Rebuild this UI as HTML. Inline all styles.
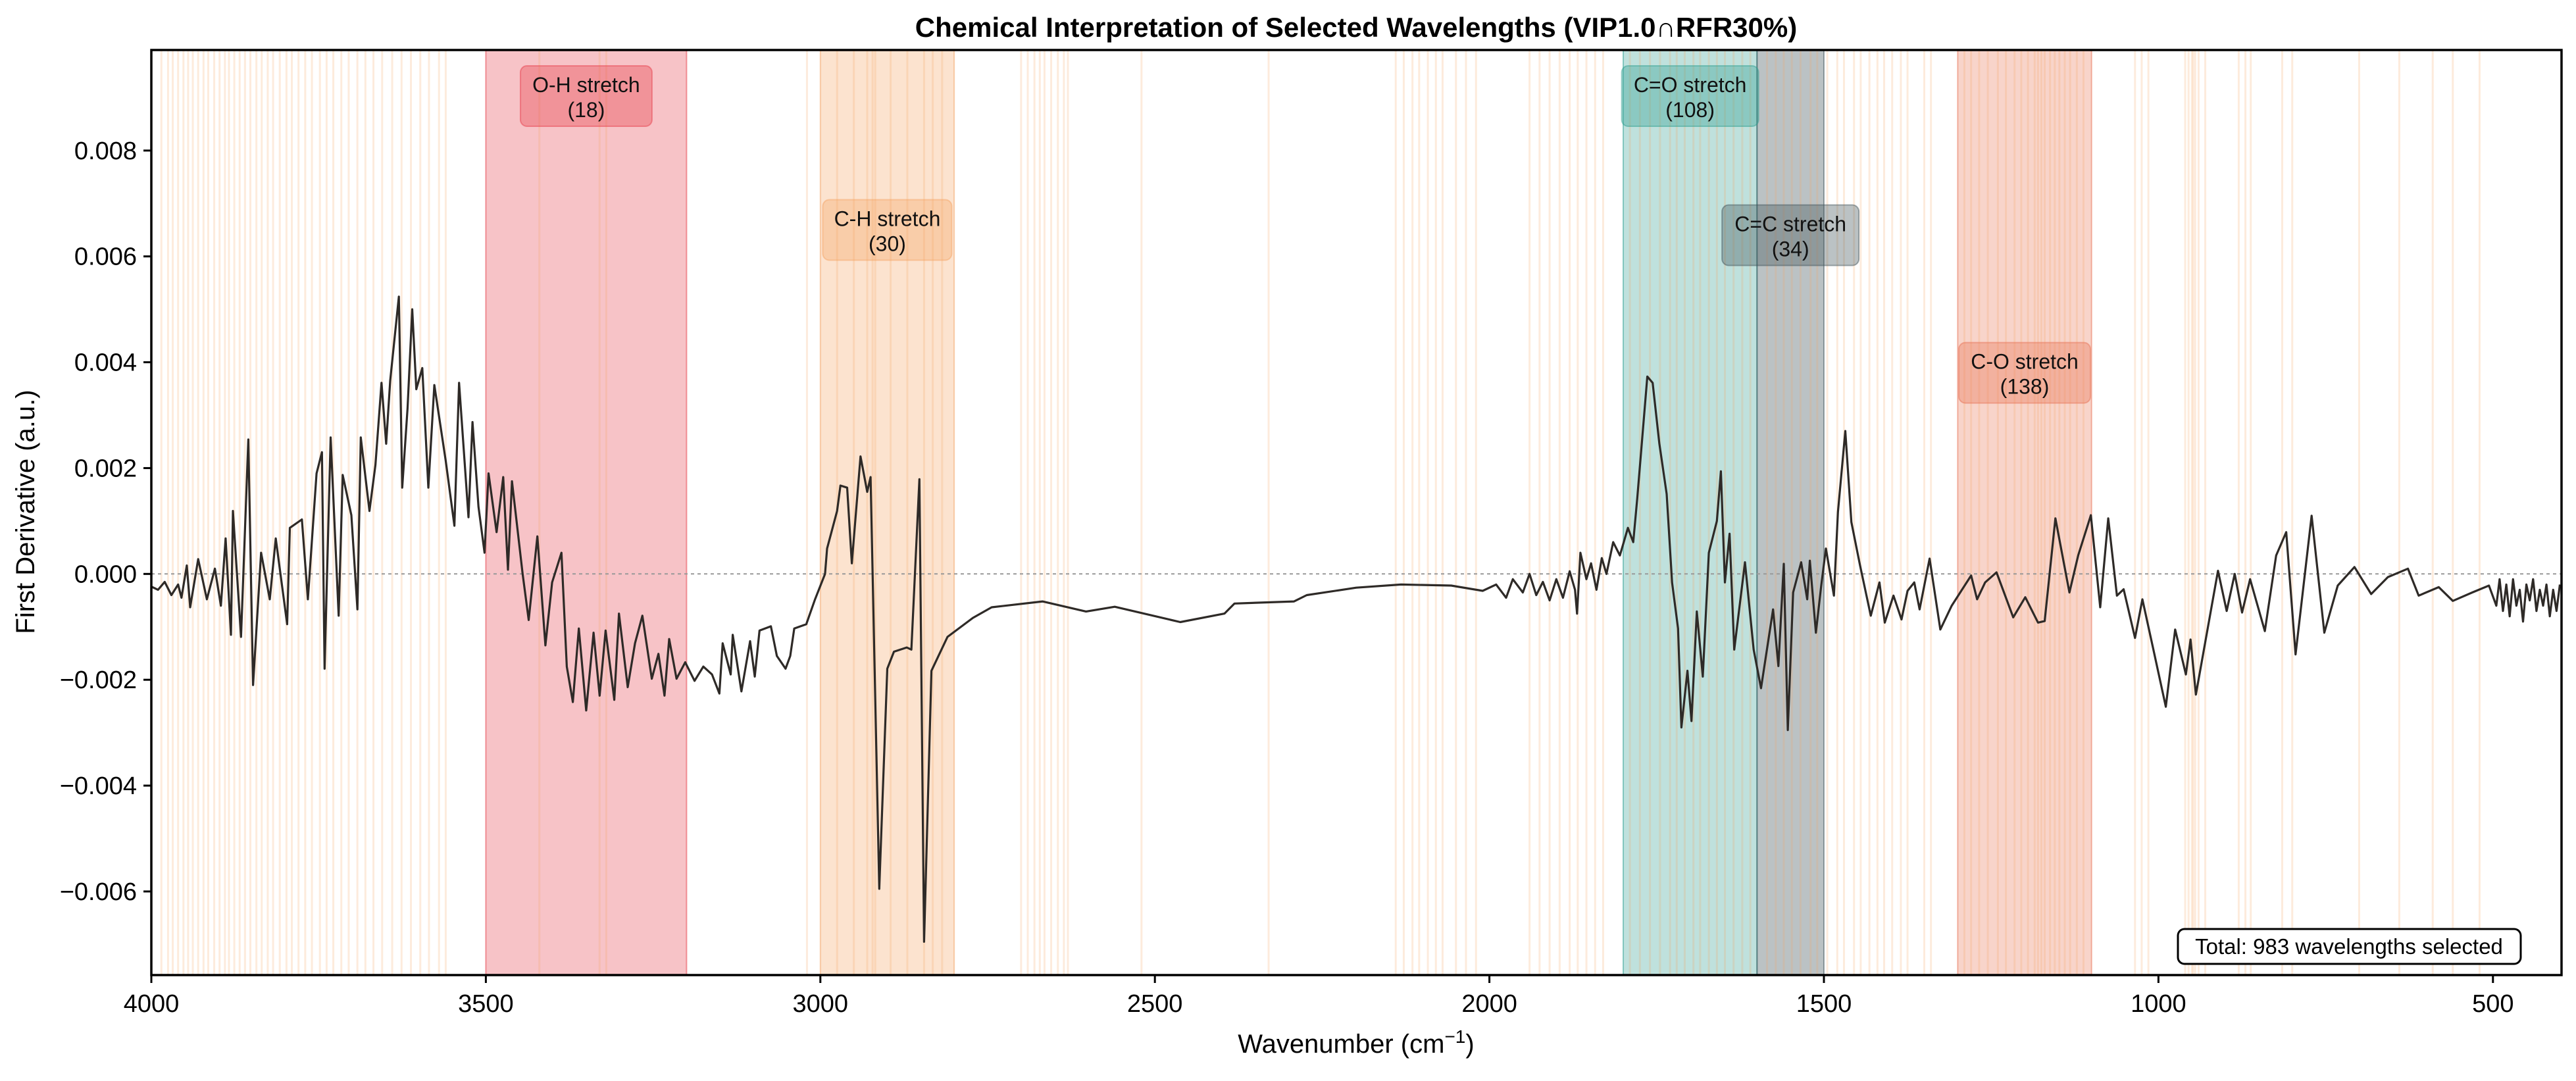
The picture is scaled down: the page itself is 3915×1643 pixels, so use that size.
<!DOCTYPE html>
<html><head><meta charset="utf-8"><style>
html,body{margin:0;padding:0;background:#fff;}
svg{display:block;font-family:"Liberation Sans",Arial,sans-serif;}
</style></head><body>
<svg id="chart" width="3915" height="1643" viewBox="0 0 3915 1643" xmlns="http://www.w3.org/2000/svg">
<text x="2061" y="56" text-anchor="middle" font-size="42" font-weight="bold" fill="#000">Chemical Interpretation of Selected Wavelengths (VIP1.0∩RFR30%)</text>
<g id="plot"></g>
<text transform="translate(52,778) rotate(-90)" text-anchor="middle" font-size="40" fill="#000">First Derivative (a.u.)</text>
<text x="2061" y="1600" text-anchor="middle" font-size="40" fill="#000">Wavenumber (cm<tspan baseline-shift="super" font-size="28">−1</tspan>)</text>
</svg>
<script>
// ---- data ----
const selectedWavenumbers=[3985,3975,3968,3960,3952,3945,3938,3930,3922,3915,3906,3898,3890,3884,3876,3868,3860,3852,3843,3835,3826,3818,3808,3798,3790,3780,3770,3760,3748,3738,3728,3716,3705,3692,3680,3668,3655,3640,3626,3612,3598,3585,3570,3560,3420,3330,3320,3020,2975,2950,2930,2922,2918,2895,2870,2845,2832,2818,2700,2690,2680,2672,2665,2655,2645,2636,2630,2520,2330,2140,2128,2115,2105,2092,2080,2070,2050,2035,2020,1940,1925,1910,1895,1880,1868,1855,1842,1830,1790,1775,1760,1745,1730,1720,1708,1695,1685,1672,1660,1648,1635,1622,1610,1585,1572,1560,1548,1535,1520,1510,1495,1480,1470,1455,1445,1432,1420,1410,1398,1385,1375,1350,1340,1290,1280,1268,1255,1240,1228,1215,1205,1195,1185,1180,1175,1170,1162,1155,1148,1140,1132,1122,1112,1035,1025,1015,960,955,950,948,945,940,930,880,870,862,815,800,700,640,590,560,520];
const bandNames=["O-H stretch","C-H stretch","C=O stretch","C=C stretch","C-O stretch"];
const bandCounts=[18,30,108,34,138];
const bandStart=[3500,3000,1800,1600,1300];
const bandEnd=[3200,2800,1600,1500,1100];
const bandLabelY=[0.00903,0.0065,0.00903,0.0064,0.0038];
const bandColors=["#e63946","#f4a261","#2a9d8f","#3d4f57","#e76f51"];
const wavenumbers=[4000,3990,3980,3970,3960,3955,3947,3942,3930,3917,3905,3896,3889,3881,3878,3866,3855,3848,3836,3823,3814,3797,3793,3775,3766,3753,3745,3741,3732,3720,3714,3701,3692,3687,3674,3665,3656,3649,3643,3630,3625,3617,3610,3604,3595,3586,3577,3560,3547,3540,3526,3520,3511,3502,3496,3484,3474,3467,3461,3445,3436,3423,3411,3401,3387,3379,3370,3361,3350,3339,3330,3321,3308,3301,3288,3277,3266,3252,3242,3233,3226,3215,3202,3188,3175,3162,3151,3146,3134,3131,3118,3105,3098,3091,3074,3065,3052,3045,3039,3021,3008,2993,2990,2975,2970,2960,2953,2940,2930,2925,2912,2900,2890,2871,2864,2852,2845,2834,2810,2772,2744,2668,2603,2560,2462,2396,2381,2292,2273,2199,2132,2057,2010,1990,1975,1965,1950,1940,1930,1920,1910,1900,1890,1880,1872,1869,1864,1855,1848,1840,1832,1825,1815,1805,1793,1785,1779,1764,1756,1746,1735,1727,1718,1713,1704,1698,1690,1681,1672,1660,1654,1648,1641,1634,1618,1605,1594,1576,1568,1560,1554,1546,1534,1525,1521,1512,1504,1497,1485,1479,1468,1459,1446,1430,1417,1409,1396,1384,1375,1365,1357,1342,1326,1309,1280,1271,1259,1242,1217,1199,1180,1170,1154,1133,1120,1101,1087,1075,1062,1052,1035,1024,1008,989,975,959,952,944,911,898,886,875,863,841,824,809,795,771,752,732,707,682,657,627,611,581,560,531,506,495,490,485,480,475,470,465,460,455,450,445,440,435,430,425,420,415,410,405,400];
const derivMilli=[-0.24,-0.3,-0.15,-0.4,-0.2,-0.45,0.16,-0.63,0.28,-0.48,0.1,-0.6,0.67,-1.15,1.19,-1.19,2.54,-2.10,0.40,-0.48,0.67,-0.95,0.87,1.03,-0.48,1.90,2.30,-1.79,2.58,-0.79,1.87,1.11,-0.67,2.58,1.19,2.06,3.61,2.46,3.65,5.24,1.63,3.13,5.0,3.49,3.89,1.63,3.57,2.14,0.91,3.61,1.07,2.87,1.27,0.40,1.90,0.79,1.83,0.08,1.75,0,-0.87,0.71,-1.35,-0.16,0.40,-1.75,-2.42,-1.03,-2.58,-1.11,-2.30,-1.07,-2.38,-0.75,-2.14,-1.31,-0.79,-1.98,-1.51,-2.30,-1.23,-1.98,-1.67,-2.02,-1.75,-1.90,-2.26,-1.31,-1.90,-1.15,-2.22,-1.27,-1.94,-1.07,-0.99,-1.55,-1.79,-1.55,-1.03,-0.95,-0.48,0,0.48,1.19,1.67,1.63,0.2,2.22,1.55,1.83,-5.95,-1.79,-1.47,-1.39,-1.43,1.79,-6.95,-1.83,-1.19,-0.83,-0.63,-0.52,-0.71,-0.62,-0.91,-0.75,-0.56,-0.52,-0.4,-0.26,-0.2,-0.22,-0.32,-0.2,-0.45,-0.1,-0.35,0.0,-0.4,-0.15,-0.5,-0.1,-0.45,0.05,-0.3,-0.75,0.4,-0.1,0.2,-0.3,0.3,0.0,0.6,0.35,0.87,0.6,1.43,3.73,3.61,2.46,1.51,-0.16,-1.03,-2.9,-1.83,-2.78,-0.71,-1.94,0.4,1.0,1.94,-0.16,0.76,-1.43,0.22,-1.43,-2.16,-0.67,-1.74,0.19,-2.95,-0.35,0.22,-0.48,0.25,-1.11,-0.22,0.48,-0.41,1.17,2.70,0.98,0.16,-0.79,-0.16,-0.92,-0.41,-0.86,-0.32,-0.16,-0.67,0.29,-1.05,-0.6,-0.03,-0.48,-0.16,0.03,-0.82,-0.44,-0.92,-0.89,1.05,-0.35,0.35,1.11,-0.63,1.05,-0.41,-0.29,-1.21,-0.48,-1.40,-2.51,-1.05,-1.90,-1.24,-2.28,0.06,-0.70,0,-0.73,-0.10,-1.08,0.35,0.79,-1.52,1.10,-1.11,-0.22,0.13,-0.38,-0.06,0.10,-0.41,-0.25,-0.51,-0.35,-0.22,-0.6,-0.1,-0.7,-0.2,-0.8,-0.1,-0.6,-0.3,-0.9,-0.2,-0.5,-0.1,-0.7,-0.3,-0.6,-0.2,-0.8,-0.3,-0.7,-0.2];
const yTicks=[0.008,0.006,0.004,0.002,0,-0.002,-0.004,-0.006];
const xTicks=[4000,3500,3000,2500,2000,1500,1000,500];
const totalText="Total: 983 wavelengths selected";

// ---- layout ----
const L=230,R=3893,T=76,B=1482;
const X0=4000,X1=397.5,Y0=0.0099,Y1=-0.00758;
function xs(w){return L+(X0-w)/(X0-X1)*(R-L);}
function ys(v){return T+(Y0-v)/(Y0-Y1)*(B-T);}
const NS="http://www.w3.org/2000/svg";
const plot=document.getElementById('plot');
function mk(tag,attrs,parent){const e=document.createElementNS(NS,tag);for(const k in attrs)e.setAttribute(k,attrs[k]);(parent||plot).appendChild(e);return e;}

const clip=mk('clipPath',{id:'pc'});mk('rect',{x:L,y:T,width:R-L,height:B-T},clip);
const inner=mk('g',{'clip-path':'url(#pc)'});

// bands
bandNames.forEach((n,i)=>{
  const r=mk('rect',{x:xs(bandStart[i]),y:T,width:xs(bandEnd[i])-xs(bandStart[i]),height:B-T,fill:bandColors[i],'fill-opacity':i===3?0.35:0.3,stroke:bandColors[i],'stroke-opacity':0.5,'stroke-width':2},inner);
  
  
});
// selected lines
selectedWavenumbers.forEach(w=>{
  const l=mk('line',{x1:xs(w),x2:xs(w),y1:T,y2:B,stroke:'#f4a261','stroke-opacity':0.22,'stroke-width':3},inner);
  
  
});
// zero line
const z=mk('line',{x1:L,x2:R,y1:ys(0),y2:ys(0),stroke:'#999','stroke-width':2,'stroke-dasharray':'5,5'},inner);


// spectrum
let d='';wavenumbers.forEach((w,i)=>{d+=(i?'L':'M')+xs(w).toFixed(1)+','+ys(derivMilli[i]/1000).toFixed(1);});
const sp=mk('path',{d:d,fill:'none',stroke:'#2e2a27','stroke-width':3.2,'stroke-linejoin':'round'},inner);


// band labels
bandNames.forEach((n,i)=>{
  const cx=xs((bandStart[i]+bandEnd[i])/2),cy=ys(bandLabelY[i]);
  const g=mk('g',{},inner);
  
  
  const w=i===4?200:(i===2?208:(i===3?208:(i===1?196:200)));
  mk('rect',{x:cx-w/2,y:cy-46,width:w,height:92,rx:10,fill:bandColors[i],'fill-opacity':0.35,stroke:bandColors[i],'stroke-opacity':0.45,'stroke-width':2},g);
  const t1=mk('text',{x:cx,y:cy-6,'text-anchor':'middle','font-size':32,fill:'#111'},g);t1.textContent=n;
  const t2=mk('text',{x:cx,y:cy+32,'text-anchor':'middle','font-size':32,fill:'#111'},g);t2.textContent='('+bandCounts[i]+')';
});
// total box
const tb=mk('g',{});


mk('rect',{x:3310,y:1412,width:521,height:53,rx:10,fill:'#fff',stroke:'#000','stroke-width':3},tb);
const tt=mk('text',{x:3570,y:1450,'text-anchor':'middle','font-size':33,fill:'#000'},tb);tt.textContent=totalText;
// frame
const fr=mk('rect',{x:L,y:T,width:R-L,height:B-T,fill:'none',stroke:'#000','stroke-width':3.5});


// ticks
yTicks.forEach(v=>{
  const y=ys(v);
  const tk=mk('line',{x1:L-12,x2:L,y1:y,y2:y,stroke:'#000','stroke-width':3});
  
  
  const t=mk('text',{x:L-22,y:y+13,'text-anchor':'end','font-size':38,fill:'#000'});
  
  
  t.textContent=(v<0?'−':'')+Math.abs(v).toFixed(3);
});
xTicks.forEach(w=>{
  const x=xs(w);
  const tk=mk('line',{x1:x,x2:x,y1:B,y2:B+12,stroke:'#000','stroke-width':3});
  
  
  const t=mk('text',{x:x,y:B+56,'text-anchor':'middle','font-size':38,fill:'#000'});
  
  
  t.textContent=w;
});
</script>
</body></html>
